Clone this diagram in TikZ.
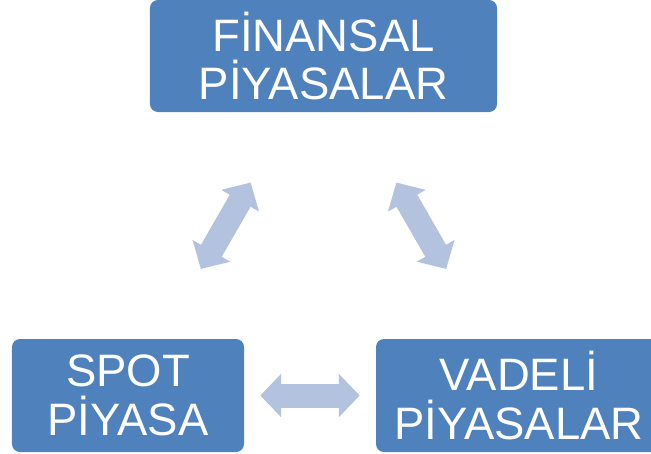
\documentclass[tikz,border=0pt]{standalone}
\usepackage{fontspec}
\setmainfont{Liberation Sans}
\usetikzlibrary{arrows.meta}
\definecolor{boxblue}{HTML}{4F81BD}
\definecolor{arrowblue}{HTML}{B3C3DF}
\begin{document}
\begin{tikzpicture}[
    x=0.03cm, y=-0.03cm,
    % Style for the market boxes
    market box/.style={fill=boxblue, draw=none, rounded corners=0.24cm,
        text=white, align=center, inner sep=0pt,
        font=\fontsize{38.8}{41.7}\selectfont},
    % Style for the light double arrows
    cycle arrow/.style={draw=arrowblue, line width=0.72cm,
        {Triangle[width=1.27cm,length=0.63cm]}-{Triangle[width=1.27cm,length=0.63cm]}}
]

    \useasboundingbox (0,0) rectangle (651,454);
    \clip (0,0) rectangle (651,454);

    % ==========================
    % Boxes
    % ==========================
    \node[market box, minimum width=10.41cm, minimum height=3.36cm]
        (finansal) at (323.5,56) {FİNANSAL\\PİYASALAR};
    \node[market box, minimum width=6.96cm, minimum height=3.39cm]
        (spot) at (128,395.5) {SPOT\\PİYASA};
    \node[market box, minimum width=8.58cm, minimum height=3.39cm]
        (vadeli) at (519,395.5) {VADELİ\\PİYASALAR};

    % ==========================
    % Arrows between the markets
    % ==========================
    \draw[cycle arrow, shorten <=4.38cm, shorten >=4.38cm]
        (spot.center) -- (finansal.center);
    \draw[cycle arrow, shorten <=4.38cm, shorten >=4.38cm]
        (finansal.center) -- (vadeli.center);
    \draw[cycle arrow, shorten <=0.48cm, shorten >=0.48cm]
        (spot.east) -- (vadeli.west);

\end{tikzpicture}
\end{document}
